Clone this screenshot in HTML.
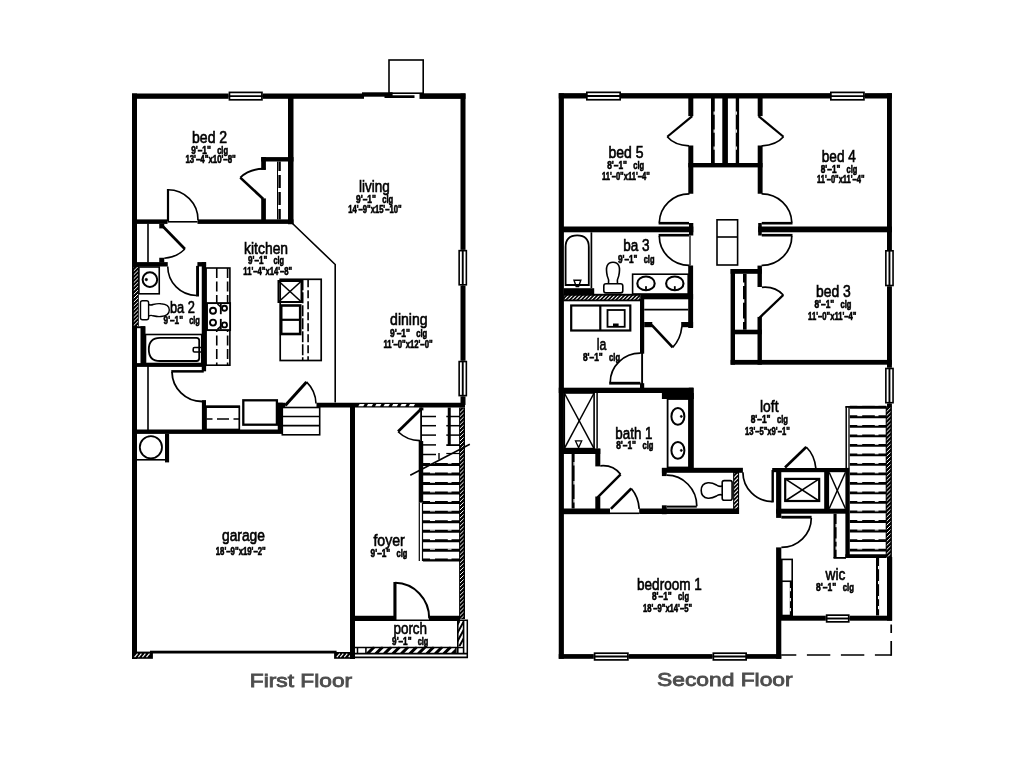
<!DOCTYPE html>
<html><head><meta charset="utf-8"><title>Floor Plan</title>
<style>
html,body{margin:0;padding:0;background:#fff;}
body{width:1024px;height:768px;overflow:hidden;font-family:"Liberation Sans",sans-serif;}
svg{display:block;filter:grayscale(1);font-family:"Liberation Sans",sans-serif;}
</style></head><body>
<svg width="1024" height="768" viewBox="0 0 1024 768">
<rect x="0" y="0" width="1024" height="768" fill="#fff"/>
<rect x="132" y="93.5" width="5" height="565.5" fill="#000"/>
<rect x="132" y="93.5" width="232" height="5.3" fill="#000"/>
<rect x="362" y="92.3" width="30.6" height="4.4" fill="#000"/>
<rect x="384.5" y="95.3" width="30.0" height="2.7" fill="#000"/>
<rect x="419.5" y="93.3" width="46.0" height="5.6" fill="#000"/>
<rect x="460.5" y="93.5" width="5.0" height="311.5" fill="#000"/>
<rect x="389" y="60" width="34.2" height="33.2" fill="none" stroke="#000" stroke-width="1.6"/>
<rect x="288" y="98" width="5.5" height="126.25" fill="#000"/>
<rect x="137" y="219.4" width="30.5" height="4.5" fill="#000"/>
<rect x="197.5" y="219.4" width="96.0" height="4.5" fill="#000"/>
<polyline points="167.5,221.8 197.5,221.8" fill="none" stroke="#000" stroke-width="1.6" />
<rect x="166.9" y="189" width="2.2" height="32" fill="#000"/>
<path d="M168,189.7 A30,30 0 0 1 198,220" fill="none" stroke="#000" stroke-width="1.6" />
<rect x="261.2" y="157.1" width="32.3" height="4.4" fill="#000"/>
<rect x="261.2" y="157.1" width="4.7" height="12.7" fill="#000"/>
<rect x="261.2" y="198.4" width="4.7" height="23.6" fill="#000"/>
<path d="M265.5,168.9 Q250,168.3 240.3,177.6" fill="none" stroke="#000" stroke-width="2" />
<polyline points="240.3,177.6 263.25,199" fill="none" stroke="#000" stroke-width="2.6" />
<polyline points="277.5,161.5 277.5,219.5" fill="none" stroke="#000" stroke-width="1" />
<polyline points="279.6,161.5 279.6,219.5" fill="none" stroke="#000" stroke-width="2.4" stroke-dasharray="13 4" stroke-dashoffset="3.6"/>
<rect x="228.6" y="91.55" width="34.2" height="9.1" fill="#fff"/>
<rect x="229.45" y="92.4" width="32.5" height="7.4" fill="none" stroke="#000" stroke-width="1.7"/>
<polyline points="228.6,96.1 262.8,96.1" fill="none" stroke="#000" stroke-width="1.9" />
<polyline points="148,223.5 148,262.5" fill="none" stroke="#000" stroke-width="1.6" />
<rect x="159.25" y="223.75" width="5.0" height="4.65" fill="#000"/>
<rect x="159.25" y="257.75" width="5.0" height="4.75" fill="#000"/>
<rect x="132" y="262.1" width="35.75" height="4.4" fill="#000"/>
<polyline points="163,226.5 184.9,249" fill="none" stroke="#000" stroke-width="2.7" />
<path d="M184.9,249 A31.5,31.5 0 0 1 164.25,258.2" fill="none" stroke="#000" stroke-width="1.6" />
<rect x="197.4" y="262.1" width="8.7" height="4.4" fill="#000"/>
<rect x="201.75" y="262.1" width="4.35" height="109.2" fill="#000"/>
<rect x="140.5" y="326.25" width="5.0" height="37.75" fill="#000"/>
<rect x="137" y="326.25" width="8" height="1.95" fill="#000"/>
<rect x="137" y="363.1" width="69.1" height="3.8" fill="#000"/>
<rect x="132.25" y="266" width="6.55" height="60.3" fill="#000"/>
<clipPath id="c1"><rect x="133.8" y="267" width="4.2" height="59"/></clipPath>
<path d="M132.8,268.0L139,261.8M132.8,271.9L139,265.7M132.8,275.8L139,269.6M132.8,279.7L139,273.5M132.8,283.6L139,277.4M132.8,287.5L139,281.3M132.8,291.4L139,285.2M132.8,295.3L139,289.1M132.8,299.2L139,293.0M132.8,303.1L139,296.9M132.8,307.0L139,300.8M132.8,310.9L139,304.7M132.8,314.8L139,308.6M132.8,318.7L139,312.5M132.8,322.6L139,316.4M132.8,326.5L139,320.3M132.8,330.4L139,324.2M132.8,334.3L139,328.1" stroke="#fff" stroke-width="1.0" fill="none" clip-path="url(#c1)"/>
<rect x="138.9" y="267" width="20.35" height="26.8" fill="none" stroke="#000" stroke-width="1.6"/>
<ellipse cx="149.9" cy="279.6" rx="7.3" ry="7.3" fill="none" stroke="#000" stroke-width="2"/>
<ellipse cx="146.3" cy="279.6" rx="1.3" ry="1.3" fill="#000" stroke="#000" stroke-width="0.5"/>
<path d="M167.75,266.5 A29,29 0 0 0 196.5,295.5" fill="none" stroke="#000" stroke-width="1.6" />
<rect x="196.1" y="265.9" width="2.9" height="30.6" fill="#000"/>
<rect x="145.5" y="334.5" width="56.25" height="29.0" fill="none" stroke="#000" stroke-width="1.6"/>
<path d="M160,337.8 H196.5 Q199.2,337.8 199.2,340.5 V358.3 Q199.2,361 196.5,361 H160 Q148.8,361 148.8,349.4 Q148.8,337.8 160,337.8 Z" fill="none" stroke="#000" stroke-width="1.8" />
<path d="M201,347.5 H194.5 Q193.2,347.5 193.2,349 V350.8 Q193.2,352 194.5,352 H201" fill="none" stroke="#000" stroke-width="1.6" />
<path d="M142.5,300.8 H146.6 Q148.6,300.8 148.6,302.8 V317.8 Q148.6,319.8 146.6,319.8 H142.5 Q140.5,319.8 140.5,317.8 V302.8 Q140.5,300.8 142.5,300.8 Z" fill="none" stroke="#000" stroke-width="1.4" />
<path d="M148.6,304.5 Q151,305.5 153,304.5 Q158,303.3 161,303.8 Q169.3,304.3 169.3,310 Q169.3,316 161,316.5 Q158,317 153,315.8 Q151,314.8 148.6,316" fill="none" stroke="#000" stroke-width="1.4" />
<rect x="206.1" y="268" width="23.8" height="97.2" fill="none" stroke="#000" stroke-width="1.6"/>
<polyline points="216.75,268 216.75,365" fill="none" stroke="#000" stroke-width="1.6" stroke-dasharray="10 3.5"/>
<polyline points="227.6,268 227.6,365" fill="none" stroke="#000" stroke-width="1.6" stroke-dasharray="10 3.5"/>
<rect x="207" y="303.1" width="23.1" height="27.0" fill="#fff" stroke="#000" stroke-width="1.9"/>
<ellipse cx="213" cy="310.7" rx="3.0" ry="3.0" fill="none" stroke="#000" stroke-width="1.9"/>
<ellipse cx="224.5" cy="308.2" rx="2.5" ry="2.5" fill="none" stroke="#000" stroke-width="1.9"/>
<ellipse cx="213" cy="322.6" rx="3.0" ry="3.0" fill="none" stroke="#000" stroke-width="1.9"/>
<ellipse cx="224.5" cy="324.9" rx="2.5" ry="2.5" fill="none" stroke="#000" stroke-width="1.9"/>
<polyline points="220.8,304 220.8,314.2" fill="none" stroke="#000" stroke-width="1.8" />
<polyline points="220.8,318.9 220.8,329.3" fill="none" stroke="#000" stroke-width="1.8" />
<polyline points="217.5,304 220.8,307" fill="none" stroke="#000" stroke-width="1.6" />
<polyline points="217.5,329.3 220.8,326.3" fill="none" stroke="#000" stroke-width="1.6" />
<rect x="280.2" y="279.3" width="41.0" height="81.2" fill="none" stroke="#000" stroke-width="1.7"/>
<rect x="278.5" y="281" width="23.0" height="21" fill="none" stroke="#000" stroke-width="2"/>
<polyline points="278.5,281 301.5,302" fill="none" stroke="#000" stroke-width="1.6" />
<polyline points="301.5,281 278.5,302" fill="none" stroke="#000" stroke-width="1.6" />
<rect x="281.2" y="305.5" width="19.0" height="28.5" fill="none" stroke="#000" stroke-width="2.6"/>
<polyline points="281.2,319.8 300.2,319.8" fill="none" stroke="#000" stroke-width="2.2" />
<polyline points="302.7,279.3 302.7,360.5" fill="none" stroke="#000" stroke-width="1.6" stroke-dasharray="11 2"/>
<polyline points="308.1,279.3 308.1,360.5" fill="none" stroke="#000" stroke-width="1.6" stroke-dasharray="8 3"/>
<polyline points="292.5,223.5 335.2,264.5 335.2,402.5" fill="none" stroke="#000" stroke-width="1.6" />
<rect x="458.35" y="249.85" width="8.8" height="35.75" fill="#fff"/>
<rect x="459.15" y="250.65" width="7.2" height="34.15" fill="none" stroke="#000" stroke-width="1.6"/>
<polyline points="462.75,249.85 462.75,285.6" fill="none" stroke="#000" stroke-width="1.9" />
<rect x="458.35" y="360.75" width="8.8" height="35.65" fill="#fff"/>
<rect x="459.15" y="361.55" width="7.2" height="34.05" fill="none" stroke="#000" stroke-width="1.6"/>
<polyline points="462.75,360.75 462.75,396.4" fill="none" stroke="#000" stroke-width="1.9" />
<polyline points="148,366 148,430" fill="none" stroke="#000" stroke-width="1.6" />
<rect x="171.25" y="370.1" width="32.5" height="2.5" fill="#000"/>
<path d="M172,372 A30,30 0 0 0 202,401.5" fill="none" stroke="#000" stroke-width="1.8" />
<rect x="201.9" y="400.1" width="4.1" height="29.9" fill="#000"/>
<rect x="132" y="429.5" width="150.75" height="4.4" fill="#000"/>
<rect x="206" y="406.5" width="33.3" height="23.0" fill="none" stroke="#000" stroke-width="1.7"/>
<polyline points="206,406.8 240,406.8" fill="none" stroke="#000" stroke-width="2.6" />
<polyline points="206.5,419 239,419" fill="none" stroke="#000" stroke-width="1.5" stroke-dasharray="12 4.5" stroke-dashoffset="6"/>
<rect x="243.3" y="400.3" width="33.6" height="24.4" fill="none" stroke="#000" stroke-width="2.3"/>
<rect x="277.75" y="402.75" width="5.0" height="29.75" fill="#000"/>
<rect x="277.75" y="402.75" width="7.55" height="4.65" fill="#000"/>
<rect x="282.3" y="407.5" width="37.4" height="27.3" fill="none" stroke="#000" stroke-width="1.6"/>
<polyline points="282.3,416.5 319.7,416.5" fill="none" stroke="#000" stroke-width="1.6" />
<polyline points="282.3,425.6 319.7,425.6" fill="none" stroke="#000" stroke-width="1.6" />
<polyline points="285.25,405.6 306.5,381.9" fill="none" stroke="#000" stroke-width="3" />
<path d="M306.5,381.9 A31.5,31.5 0 0 1 316,403.5" fill="none" stroke="#000" stroke-width="1.6" />
<rect x="316.5" y="402.75" width="148.5" height="4.75" fill="#000"/>
<polygon points="358.3,406.3 359.6,404 364.6,404 363.3,406.3" fill="#fff"/>
<polygon points="366.7,406.3 368.0,404 373.0,404 371.7,406.3" fill="#fff"/>
<polygon points="375.1,406.3 376.40000000000003,404 381.40000000000003,404 380.1,406.3" fill="#fff"/>
<polygon points="383.5,406.3 384.8,404 389.8,404 388.5,406.3" fill="#fff"/>
<polygon points="391.90000000000003,406.3 393.20000000000005,404 398.20000000000005,404 396.90000000000003,406.3" fill="#fff"/>
<polygon points="400.3,406.3 401.6,404 406.6,404 405.3,406.3" fill="#fff"/>
<polygon points="408.70000000000005,406.3 410.00000000000006,404 415.00000000000006,404 413.70000000000005,406.3" fill="#fff"/>
<rect x="350" y="405" width="5" height="254" fill="#000"/>
<rect x="132.4" y="651.6" width="20.5" height="7.2" fill="#000"/>
<polyline points="134.6,657.2 137.6,653.6" fill="none" stroke-width="1.1" stroke="#fff"/>
<polyline points="138.4,657.2 141.4,653.6" fill="none" stroke-width="1.1" stroke="#fff"/>
<polyline points="142.4,657.2 145.4,653.6" fill="none" stroke-width="1.1" stroke="#fff"/>
<polyline points="146.5,657.2 149.5,653.6" fill="none" stroke-width="1.1" stroke="#fff"/>
<rect x="334.1" y="652" width="20.5" height="6.8" fill="#000"/>
<polyline points="336.8,657.2 339.8,653.6" fill="none" stroke-width="1.1" stroke="#fff"/>
<polyline points="340.3,657.2 343.3,653.6" fill="none" stroke-width="1.1" stroke="#fff"/>
<polyline points="344.3,657.2 347.3,653.6" fill="none" stroke-width="1.1" stroke="#fff"/>
<polyline points="348.7,657.2 351.7,653.6" fill="none" stroke-width="1.1" stroke="#fff"/>
<rect x="150" y="650.7" width="186.6" height="2.8" fill="#000"/>
<rect x="165" y="433.7" width="4.1" height="28.7" fill="#000"/>
<polyline points="137,459.8 165,459.8" fill="none" stroke="#000" stroke-width="1.6" />
<ellipse cx="150.9" cy="447.25" rx="11.1" ry="11.1" fill="none" stroke="#000" stroke-width="1.8"/>
<rect x="354.6" y="615.75" width="39.4" height="5.25" fill="#000"/>
<rect x="429" y="615.75" width="31" height="5.25" fill="#000"/>
<polyline points="394,620.2 429,620.2" fill="none" stroke="#000" stroke-width="1.6" />
<rect x="393.4" y="582" width="3.1" height="38.5" fill="#000"/>
<path d="M395.25,582.8 A34.5,35.5 0 0 1 429.2,618.5" fill="none" stroke="#000" stroke-width="2" />
<rect x="459.1" y="407.5" width="5.9" height="211.5" fill="#000"/>
<clipPath id="c2"><rect x="460" y="408.5" width="3.6" height="210.0"/></clipPath>
<path d="M459,409.5L464.6,403.9M459,413.56L464.6,407.96M459,417.62L464.6,412.02M459,421.68L464.6,416.08M459,425.74L464.6,420.14M459,429.8L464.6,424.2M459,433.86L464.6,428.26M459,437.92L464.6,432.32M459,441.98L464.6,436.38M459,446.04L464.6,440.44M459,450.1L464.6,444.5M459,454.16L464.6,448.56M459,458.22L464.6,452.62M459,462.28L464.6,456.68M459,466.34L464.6,460.74M459,470.4L464.6,464.8M459,474.46L464.6,468.86M459,478.52L464.6,472.92M459,482.58L464.6,476.98M459,486.64L464.6,481.04M459,490.7L464.6,485.1M459,494.76L464.6,489.16M459,498.82L464.6,493.22M459,502.88L464.6,497.28M459,506.94L464.6,501.34M459,511.0L464.6,505.4M459,515.06L464.6,509.46M459,519.12L464.6,513.52M459,523.18L464.6,517.58M459,527.24L464.6,521.64M459,531.3L464.6,525.7M459,535.36L464.6,529.76M459,539.42L464.6,533.82M459,543.48L464.6,537.88M459,547.54L464.6,541.94M459,551.6L464.6,546.0M459,555.66L464.6,550.06M459,559.72L464.6,554.12M459,563.78L464.6,558.18M459,567.84L464.6,562.24M459,571.9L464.6,566.3M459,575.96L464.6,570.36M459,580.02L464.6,574.42M459,584.08L464.6,578.48M459,588.14L464.6,582.54M459,592.2L464.6,586.6M459,596.26L464.6,590.66M459,600.32L464.6,594.72M459,604.38L464.6,598.78M459,608.44L464.6,602.84M459,612.5L464.6,606.9M459,616.56L464.6,610.96M459,620.62L464.6,615.02M459,624.68L464.6,619.08" stroke="#fff" stroke-width="1.0" fill="none" clip-path="url(#c2)"/>
<rect x="419.2" y="407.5" width="4.2" height="2.9" fill="#000"/>
<polyline points="421.1,407.5 421.1,441.5" fill="none" stroke="#000" stroke-width="1.8" />
<rect x="418.7" y="441" width="4.5" height="61.6" fill="#000"/>
<polyline points="419.3,502.6 419.3,561" fill="none" stroke="#000" stroke-width="1.2" />
<polyline points="422.5,502.6 422.5,561" fill="none" stroke="#000" stroke-width="1.2" />
<polyline points="422,416.5 436,416.5" fill="none" stroke="#000" stroke-width="1.5" />
<polyline points="422,425.7 436,425.7" fill="none" stroke="#000" stroke-width="1.5" />
<polyline points="422,435.1 436,435.1" fill="none" stroke="#000" stroke-width="1.5" />
<polyline points="422,444.9 436,444.9" fill="none" stroke="#000" stroke-width="1.5" />
<polyline points="422,454.5 436,454.5" fill="none" stroke="#000" stroke-width="1.5" />
<polyline points="446.3,416.5 459.75,416.5" fill="none" stroke="#000" stroke-width="1.5" />
<polyline points="446.3,425.7 459.75,425.7" fill="none" stroke="#000" stroke-width="1.5" />
<polyline points="446.3,435.1 459.75,435.1" fill="none" stroke="#000" stroke-width="1.5" />
<polyline points="446.3,453.5 459.75,453.5" fill="none" stroke="#000" stroke-width="1.2" />
<polyline points="422.9,464.4 460,464.4" fill="none" stroke="#000" stroke-width="3" />
<rect x="430" y="462.59999999999997" width="5" height="1.1" fill="#fff"/>
<rect x="447.8" y="462.59999999999997" width="3.7" height="1.1" fill="#fff"/>
<polyline points="422.9,473.95 460,473.95" fill="none" stroke="#000" stroke-width="3" />
<rect x="430" y="472.15" width="5" height="1.1" fill="#fff"/>
<rect x="447.8" y="472.15" width="3.7" height="1.1" fill="#fff"/>
<polyline points="422.9,483.5 460,483.5" fill="none" stroke="#000" stroke-width="3" />
<rect x="430" y="481.7" width="5" height="1.1" fill="#fff"/>
<rect x="447.8" y="481.7" width="3.7" height="1.1" fill="#fff"/>
<polyline points="422.9,493.05 460,493.05" fill="none" stroke="#000" stroke-width="3" />
<rect x="430" y="491.25" width="5" height="1.1" fill="#fff"/>
<rect x="447.8" y="491.25" width="3.7" height="1.1" fill="#fff"/>
<polyline points="422.9,502.6 460,502.6" fill="none" stroke="#000" stroke-width="3" />
<rect x="430" y="500.8" width="5" height="1.1" fill="#fff"/>
<rect x="447.8" y="500.8" width="3.7" height="1.1" fill="#fff"/>
<polyline points="422.9,512.15 460,512.15" fill="none" stroke="#000" stroke-width="3" />
<rect x="430" y="510.34999999999997" width="5" height="1.1" fill="#fff"/>
<rect x="447.8" y="510.34999999999997" width="3.7" height="1.1" fill="#fff"/>
<polyline points="422.9,521.6999999999999 460,521.6999999999999" fill="none" stroke="#000" stroke-width="3" />
<rect x="430" y="519.9" width="5" height="1.1" fill="#fff"/>
<rect x="447.8" y="519.9" width="3.7" height="1.1" fill="#fff"/>
<polyline points="422.9,531.2499999999999 460,531.2499999999999" fill="none" stroke="#000" stroke-width="3" />
<rect x="430" y="529.4499999999999" width="5" height="1.1" fill="#fff"/>
<rect x="447.8" y="529.4499999999999" width="3.7" height="1.1" fill="#fff"/>
<polyline points="422.9,540.7999999999998 460,540.7999999999998" fill="none" stroke="#000" stroke-width="3" />
<rect x="430" y="538.9999999999999" width="5" height="1.1" fill="#fff"/>
<rect x="447.8" y="538.9999999999999" width="3.7" height="1.1" fill="#fff"/>
<polyline points="422.9,550.3499999999998 460,550.3499999999998" fill="none" stroke="#000" stroke-width="3" />
<rect x="430" y="548.5499999999998" width="5" height="1.1" fill="#fff"/>
<rect x="447.8" y="548.5499999999998" width="3.7" height="1.1" fill="#fff"/>
<polyline points="422.9,559.8999999999997 460,559.8999999999997" fill="none" stroke="#000" stroke-width="3" />
<rect x="430" y="558.0999999999998" width="5" height="1.1" fill="#fff"/>
<rect x="447.8" y="558.0999999999998" width="3.7" height="1.1" fill="#fff"/>
<polyline points="410.25,475.2 469.8,444.2" fill="none" stroke="#000" stroke-width="1.6" />
<polyline points="439,453 439,459.5" fill="none" stroke="#000" stroke-width="1.4" />
<rect x="447.75" y="407.5" width="3.0" height="37.6" fill="#000"/>
<rect x="446.3" y="444.2" width="13.7" height="1.8" fill="#000"/>
<polyline points="420.6,409.5 398.1,431.5" fill="none" stroke="#000" stroke-width="2.8" />
<path d="M398.1,431.8 A31.2,31.2 0 0 0 420.1,440.6" fill="none" stroke="#000" stroke-width="1.6" />
<rect x="350" y="620" width="4.6" height="38.25" fill="#000"/>
<clipPath id="c3"><rect x="365.9" y="646.75" width="90.0" height="7.15"/></clipPath>
<rect x="365.9" y="646.75" width="90.0" height="7.15" fill="#fff"/>
<path d="M358.75,653.9L365.9,646.75M367.25,653.9L374.4,646.75M375.75,653.9L382.9,646.75M384.25,653.9L391.4,646.75M392.75,653.9L399.9,646.75M401.25,653.9L408.4,646.75M409.75,653.9L416.9,646.75M418.25,653.9L425.4,646.75M426.75,653.9L433.9,646.75M435.25,653.9L442.4,646.75M443.75,653.9L450.9,646.75M452.25,653.9L459.4,646.75M460.75,653.9L467.9,646.75" stroke="#000" stroke-width="3" fill="none" clip-path="url(#c3)"/>
<polyline points="354.6,647.5 464,647.5" fill="none" stroke="#000" stroke-width="1.6" />
<polyline points="354.6,653.6 467.7,653.6" fill="none" stroke="#000" stroke-width="1.6" />
<polyline points="357.5,647.5 357.5,653.6" fill="none" stroke="#000" stroke-width="1.5" />
<polyline points="365.9,647.5 365.9,653.6" fill="none" stroke="#000" stroke-width="1.5" />
<polyline points="455.9,647.5 455.9,653.6" fill="none" stroke="#000" stroke-width="1.5" />
<polyline points="354.6,657.3 468,657.3" fill="none" stroke="#000" stroke-width="1.7" />
<clipPath id="c4"><rect x="457.1" y="621" width="6.9" height="25.5"/></clipPath>
<rect x="457.1" y="621" width="6.9" height="25.5" fill="#fff"/>
<path d="M431.6,646.5L445.62,621M436.2,646.5L450.23,621M440.8,646.5L454.82,621M445.4,646.5L459.43,621M450.0,646.5L464.02,621M454.6,646.5L468.62,621M459.2,646.5L473.23,621M463.8,646.5L477.82,621M468.4,646.5L482.43,621M473.0,646.5L487.02,621M477.6,646.5L491.62,621M482.2,646.5L496.23,621M486.8,646.5L500.82,621" stroke="#000" stroke-width="2" fill="none" clip-path="url(#c4)"/>
<polyline points="457.8,621 457.8,653.6" fill="none" stroke="#000" stroke-width="1.6" />
<polyline points="463.6,621 463.6,653.6" fill="none" stroke="#000" stroke-width="1.6" />
<polyline points="460,620.3 467.3,620.3 467.3,657.5" fill="none" stroke="#000" stroke-width="1.5" />
<text x="192" y="143.1" font-size="17.2" textLength="35.2" lengthAdjust="spacingAndGlyphs" stroke="#000" stroke-width="0.65">bed 2</text>
<text x="191.2" y="153.6" font-size="10" font-weight="bold" textLength="19.69" lengthAdjust="spacingAndGlyphs" stroke="#000" stroke-width="0.6">9'–1&quot;</text>
<text x="217.14" y="153.6" font-size="10" font-weight="bold" textLength="10.86" lengthAdjust="spacingAndGlyphs" stroke="#000" stroke-width="0.6">clg</text>
<text x="185.4" y="163.4" font-size="10" font-weight="bold" textLength="50.4" lengthAdjust="spacingAndGlyphs" stroke="#000" stroke-width="0.6">13'–4&quot;x10'–8&quot;</text>
<text x="359" y="191.7" font-size="17.2" textLength="30.8" lengthAdjust="spacingAndGlyphs" stroke="#000" stroke-width="0.65">living</text>
<text x="356.1" y="202.7" font-size="10" font-weight="bold" textLength="19.85" lengthAdjust="spacingAndGlyphs" stroke="#000" stroke-width="0.6">9'–1&quot;</text>
<text x="382.26" y="202.7" font-size="10" font-weight="bold" textLength="10.94" lengthAdjust="spacingAndGlyphs" stroke="#000" stroke-width="0.6">clg</text>
<text x="348.3" y="213" font-size="10" font-weight="bold" textLength="53.2" lengthAdjust="spacingAndGlyphs" stroke="#000" stroke-width="0.6">14'–9&quot;x15'–10&quot;</text>
<text x="244.1" y="253.7" font-size="17.2" textLength="44.0" lengthAdjust="spacingAndGlyphs" stroke="#000" stroke-width="0.65">kitchen</text>
<text x="248" y="264.4" font-size="10" font-weight="bold" textLength="19.26" lengthAdjust="spacingAndGlyphs" stroke="#000" stroke-width="0.6">9'–1&quot;</text>
<text x="273.38" y="264.4" font-size="10" font-weight="bold" textLength="10.62" lengthAdjust="spacingAndGlyphs" stroke="#000" stroke-width="0.6">clg</text>
<text x="243.3" y="275.4" font-size="10" font-weight="bold" textLength="48.9" lengthAdjust="spacingAndGlyphs" stroke="#000" stroke-width="0.6">11'–4&quot;x14'–8&quot;</text>
<text x="390.1" y="325.4" font-size="17.2" textLength="37.5" lengthAdjust="spacingAndGlyphs" stroke="#000" stroke-width="0.65">dining</text>
<text x="390" y="336.6" font-size="10" font-weight="bold" textLength="19.93" lengthAdjust="spacingAndGlyphs" stroke="#000" stroke-width="0.6">9'–1&quot;</text>
<text x="416.26" y="336.6" font-size="10" font-weight="bold" textLength="10.99" lengthAdjust="spacingAndGlyphs" stroke="#000" stroke-width="0.6">clg</text>
<text x="383.5" y="348.2" font-size="10" font-weight="bold" textLength="49.1" lengthAdjust="spacingAndGlyphs" stroke="#000" stroke-width="0.6">11'–0&quot;x12'–0&quot;</text>
<text x="169.9" y="313.1" font-size="17.2" textLength="25.0" lengthAdjust="spacingAndGlyphs" stroke="#000" stroke-width="0.65">ba 2</text>
<text x="163.6" y="323.75" font-size="10" font-weight="bold" textLength="19.42" lengthAdjust="spacingAndGlyphs" stroke="#000" stroke-width="0.6">9'–1&quot;</text>
<text x="189.19" y="323.75" font-size="10" font-weight="bold" textLength="10.71" lengthAdjust="spacingAndGlyphs" stroke="#000" stroke-width="0.6">clg</text>
<text x="222" y="540.6" font-size="17.2" textLength="42.9" lengthAdjust="spacingAndGlyphs" stroke="#000" stroke-width="0.65">garage</text>
<text x="215.8" y="554.9" font-size="10" font-weight="bold" textLength="50.0" lengthAdjust="spacingAndGlyphs" stroke="#000" stroke-width="0.6">18'–9&quot;x19'–2&quot;</text>
<text x="373.4" y="546.2" font-size="17.2" textLength="31.4" lengthAdjust="spacingAndGlyphs" stroke="#000" stroke-width="0.65">foyer</text>
<text x="370.6" y="557.2" font-size="10" font-weight="bold" textLength="19.69" lengthAdjust="spacingAndGlyphs" stroke="#000" stroke-width="0.6">9'–1&quot;</text>
<text x="396.54" y="557.2" font-size="10" font-weight="bold" textLength="10.86" lengthAdjust="spacingAndGlyphs" stroke="#000" stroke-width="0.6">clg</text>
<text x="393.4" y="634.1" font-size="17.2" textLength="33.7" lengthAdjust="spacingAndGlyphs" stroke="#000" stroke-width="0.65">porch</text>
<text x="392.1" y="645.1" font-size="10" font-weight="bold" textLength="19.42" lengthAdjust="spacingAndGlyphs" stroke="#000" stroke-width="0.6">9'–1&quot;</text>
<text x="417.69" y="645.1" font-size="10" font-weight="bold" textLength="10.71" lengthAdjust="spacingAndGlyphs" stroke="#000" stroke-width="0.6">clg</text>
<text x="249.8" y="686.7" font-size="19.2" fill="#4d4d4f" stroke="#4d4d4f" stroke-width="0.85" textLength="102.3" lengthAdjust="spacingAndGlyphs">First Floor</text>
<rect x="558.75" y="93.25" width="5.15" height="565.55" fill="#000"/>
<rect x="558.75" y="93.15" width="333.15" height="5.35" fill="#000"/>
<rect x="887" y="93.25" width="4.9" height="313.75" fill="#000"/>
<rect x="558.75" y="654.1" width="222.5" height="4.7" fill="#000"/>
<rect x="776.1" y="547.4" width="5.2" height="111.4" fill="#000"/>
<rect x="781" y="615.7" width="111" height="5.0" fill="#000"/>
<rect x="887" y="557" width="5.2" height="63.7" fill="#000"/>
<rect x="885.7" y="406.5" width="6.2" height="150.5" fill="#000"/>
<clipPath id="c5"><rect x="886.7" y="407.5" width="3.8" height="149.0"/></clipPath>
<path d="M885.7,408.5L891.5,402.7M885.7,412.56L891.5,406.76M885.7,416.62L891.5,410.82M885.7,420.68L891.5,414.88M885.7,424.74L891.5,418.94M885.7,428.8L891.5,423.0M885.7,432.86L891.5,427.06M885.7,436.92L891.5,431.12M885.7,440.98L891.5,435.18M885.7,445.04L891.5,439.24M885.7,449.1L891.5,443.3M885.7,453.16L891.5,447.36M885.7,457.22L891.5,451.42M885.7,461.28L891.5,455.48M885.7,465.34L891.5,459.54M885.7,469.4L891.5,463.6M885.7,473.46L891.5,467.66M885.7,477.52L891.5,471.72M885.7,481.58L891.5,475.78M885.7,485.64L891.5,479.84M885.7,489.7L891.5,483.9M885.7,493.76L891.5,487.96M885.7,497.82L891.5,492.02M885.7,501.88L891.5,496.08M885.7,505.94L891.5,500.14M885.7,510.0L891.5,504.2M885.7,514.06L891.5,508.26M885.7,518.12L891.5,512.32M885.7,522.18L891.5,516.38M885.7,526.24L891.5,520.44M885.7,530.3L891.5,524.5M885.7,534.36L891.5,528.56M885.7,538.42L891.5,532.62M885.7,542.48L891.5,536.68M885.7,546.54L891.5,540.74M885.7,550.6L891.5,544.8M885.7,554.66L891.5,548.86M885.7,558.72L891.5,552.92M885.7,562.78L891.5,556.98" stroke="#fff" stroke-width="1.0" fill="none" clip-path="url(#c5)"/>
<polyline points="781.3,655 891.2,655" fill="none" stroke="#000" stroke-width="1.7" stroke-dasharray="23.4 10.6" stroke-dashoffset="8.4"/>
<polyline points="891.2,655.8 891.2,641" fill="none" stroke="#000" stroke-width="1.7" />
<polyline points="891.2,633 891.2,624.5" fill="none" stroke="#000" stroke-width="1.7" />
<rect x="586" y="91.5" width="35" height="9.1" fill="#fff"/>
<rect x="586.85" y="92.35" width="33.3" height="7.4" fill="none" stroke="#000" stroke-width="1.7"/>
<polyline points="586,96.05 621,96.05" fill="none" stroke="#000" stroke-width="1.9" />
<rect x="830" y="91.55" width="34.8" height="9.1" fill="#fff"/>
<rect x="830.85" y="92.4" width="33.1" height="7.4" fill="none" stroke="#000" stroke-width="1.7"/>
<polyline points="830,96.1 864.8,96.1" fill="none" stroke="#000" stroke-width="1.9" />
<rect x="885.0500000000001" y="250" width="8.8" height="36.3" fill="#fff"/>
<rect x="885.85" y="250.8" width="7.2" height="34.7" fill="none" stroke="#000" stroke-width="1.6"/>
<polyline points="889.45,250 889.45,286.3" fill="none" stroke="#000" stroke-width="1.9" />
<rect x="885.0500000000001" y="367.7" width="8.8" height="35.8" fill="#fff"/>
<rect x="885.85" y="368.5" width="7.2" height="34.2" fill="none" stroke="#000" stroke-width="1.6"/>
<polyline points="889.45,367.7 889.45,403.5" fill="none" stroke="#000" stroke-width="1.9" />
<rect x="593.75" y="652.3499999999999" width="35.0" height="8.4" fill="#fff"/>
<rect x="594.6" y="653.2" width="33.3" height="6.7" fill="none" stroke="#000" stroke-width="1.7"/>
<polyline points="593.75,656.55 628.75,656.55" fill="none" stroke="#000" stroke-width="1.9" />
<rect x="712.5" y="652.3499999999999" width="34.5" height="8.4" fill="#fff"/>
<rect x="713.35" y="653.2" width="32.8" height="6.7" fill="none" stroke="#000" stroke-width="1.7"/>
<polyline points="712.5,656.55 747,656.55" fill="none" stroke="#000" stroke-width="1.9" />
<rect x="825.8" y="614.3" width="23.8" height="8.4" fill="#fff"/>
<rect x="826.65" y="615.15" width="22.1" height="6.7" fill="none" stroke="#000" stroke-width="1.7"/>
<polyline points="825.8,618.5 849.6,618.5" fill="none" stroke="#000" stroke-width="1.9" />
<rect x="688.3" y="98" width="5.0" height="18.1" fill="#000"/>
<rect x="688.3" y="145.5" width="5.0" height="48.25" fill="#000"/>
<rect x="689" y="223" width="4.3" height="12.5" fill="#000"/>
<rect x="722.3" y="98" width="5.6" height="66" fill="#000"/>
<rect x="688.3" y="163" width="74.2" height="4.4" fill="#000"/>
<rect x="757.7" y="98" width="4.9" height="18.1" fill="#000"/>
<rect x="757.7" y="145.5" width="4.9" height="48.25" fill="#000"/>
<rect x="711" y="98" width="3.75" height="65" fill="#000"/>
<rect x="713.6" y="111.5" width="1.2" height="3.2" fill="#fff"/>
<rect x="713.6" y="129.5" width="1.2" height="3.2" fill="#fff"/>
<rect x="713.6" y="146.5" width="1.2" height="3.2" fill="#fff"/>
<rect x="735.75" y="98" width="3.35" height="65" fill="#000"/>
<rect x="735.7" y="111.5" width="1.2" height="3.2" fill="#fff"/>
<rect x="735.7" y="129.5" width="1.2" height="3.2" fill="#fff"/>
<rect x="735.7" y="146.5" width="1.2" height="3.2" fill="#fff"/>
<path d="M692.25,116.1 L667.25,136.75" fill="none" stroke="#000" stroke-width="2.2" />
<path d="M667.25,136.75 Q674.5,145.2 689,145.9" fill="none" stroke="#000" stroke-width="1.7" />
<path d="M758.5,116.1 L783.5,136.75" fill="none" stroke="#000" stroke-width="2.2" />
<path d="M783.5,136.75 Q776.2,145.2 761.6,145.9" fill="none" stroke="#000" stroke-width="1.7" />
<rect x="563" y="226.5" width="130.3" height="5.8" fill="#000"/>
<rect x="758.2" y="226.5" width="133.8" height="5.8" fill="#000"/>
<rect x="758.2" y="223" width="3.55" height="12.5" fill="#000"/>
<rect x="658.6" y="221.9" width="30.4" height="2.6" fill="#000"/>
<path d="M659.3,222.5 A30,29.5 0 0 1 689.5,193.9" fill="none" stroke="#000" stroke-width="1.7" />
<rect x="658.6" y="233.9" width="30.4" height="2.6" fill="#000"/>
<path d="M659.3,236 A30,29.5 0 0 0 689.5,265.4" fill="none" stroke="#000" stroke-width="1.7" />
<polyline points="690,235.5 690,265.6" fill="none" stroke="#000" stroke-width="1.3" />
<rect x="761.75" y="221.9" width="30.75" height="2.6" fill="#000"/>
<path d="M791.8,222.5 A30,29.5 0 0 0 761.6,193.9" fill="none" stroke="#000" stroke-width="1.7" />
<rect x="761.75" y="233.9" width="30.75" height="2.6" fill="#000"/>
<path d="M791.8,236 A30,29.5 0 0 1 761.6,265.4" fill="none" stroke="#000" stroke-width="1.7" />
<rect x="717" y="219.8" width="20.6" height="45.2" fill="none" stroke="#000" stroke-width="1.6"/>
<polyline points="717,237 737.6,237" fill="none" stroke="#000" stroke-width="1.6" />
<polyline points="591.4,232.3 591.4,288" fill="none" stroke="#000" stroke-width="1.7" />
<path d="M565.6,285 V247 Q565.6,235.3 577.2,235.3 Q588.8,235.3 588.8,247 V285 Z" fill="none" stroke="#000" stroke-width="1.8" />
<path d="M574,280.3 H580.8 L578.6,286.5 H576.2 Z" fill="none" stroke="#000" stroke-width="1.4" />
<rect x="563.7" y="288.2" width="30.5" height="5.8" fill="#000"/>
<rect x="563.3" y="293.8" width="77.3" height="7.5" fill="#000"/>
<clipPath id="c6"><rect x="564.5" y="295.7" width="75.1" height="3.8"/></clipPath>
<path d="M559.7,300.5L565.5,294.7M563.55,300.5L569.35,294.7M567.4,300.5L573.2,294.7M571.25,300.5L577.05,294.7M575.1,300.5L580.9,294.7M578.95,300.5L584.75,294.7M582.8,300.5L588.6,294.7M586.65,300.5L592.45,294.7M590.5,300.5L596.3,294.7M594.35,300.5L600.15,294.7M598.2,300.5L604.0,294.7M602.05,300.5L607.85,294.7M605.9,300.5L611.7,294.7M609.75,300.5L615.55,294.7M613.6,300.5L619.4,294.7M617.45,300.5L623.25,294.7M621.3,300.5L627.1,294.7M625.15,300.5L630.95,294.7M629.0,300.5L634.8,294.7M632.85,300.5L638.65,294.7M636.7,300.5L642.5,294.7M640.55,300.5L646.35,294.7" stroke="#fff" stroke-width="1.1" fill="none" clip-path="url(#c6)"/>
<rect x="640.4" y="294" width="52.7" height="5.3" fill="#000"/>
<rect x="632.6" y="274.2" width="55.6" height="19.8" fill="none" stroke="#000" stroke-width="1.6"/>
<ellipse cx="646" cy="283.4" rx="8.7" ry="6.9" fill="none" stroke="#000" stroke-width="2.1"/>
<rect x="645.1" y="286.2" width="1.8" height="3.6" fill="#000"/>
<ellipse cx="674.8" cy="283.4" rx="8.7" ry="6.9" fill="none" stroke="#000" stroke-width="2.1"/>
<rect x="673.9" y="286.2" width="1.8" height="3.6" fill="#000"/>
<rect x="688.2" y="265.5" width="4.9" height="62.5" fill="#000"/>
<path d="M606,283.8 H620.6 Q622.8,283.8 622.8,286 V290.7 Q622.8,292.9 620.6,292.9 H606 Q603.8,292.9 603.8,290.7 V286 Q603.8,283.8 606,283.8 Z" fill="none" stroke="#000" stroke-width="1.6" />
<path d="M608.5,283.8 Q609.3,280 607.3,276 Q604.2,262.3 613,262.3 Q621.8,262.3 618.7,276 Q616.7,280 617.5,283.8" fill="none" stroke="#000" stroke-width="1.6" />
<rect x="640" y="299" width="4.2" height="54.7" fill="#000"/>
<polyline points="642.1,353 642.1,384" fill="none" stroke="#000" stroke-width="1.9" />
<rect x="640" y="383.2" width="4.2" height="4.8" fill="#000"/>
<rect x="571.2" y="305.5" width="59.1" height="25.0" fill="none" stroke="#000" stroke-width="2.2"/>
<polyline points="600.3,305.5 600.3,330.5" fill="none" stroke="#000" stroke-width="2.2" />
<rect x="607.5" y="310" width="17.2" height="16.8" fill="none" stroke="#000" stroke-width="1.8"/>
<rect x="613" y="323.5" width="5.6" height="2.5" fill="#000"/>
<rect x="609.2" y="381.8" width="31.2" height="2.8" fill="#000"/>
<path d="M610.2,382.5 A30,29.5 0 0 1 640.4,353.2" fill="none" stroke="#000" stroke-width="1.7" />
<polyline points="644.2,309.6 688.2,309.6" fill="none" stroke="#000" stroke-width="1.6" />
<rect x="644.2" y="322" width="8.1" height="5.2" fill="#000"/>
<rect x="681.2" y="322" width="11.9" height="5.2" fill="#000"/>
<polyline points="651.6,324.8 672.7,347.3" fill="none" stroke="#000" stroke-width="2.6" />
<path d="M672.7,347.3 Q680.5,339.5 681.9,326.5" fill="none" stroke="#000" stroke-width="1.7" />
<rect x="558.75" y="387.7" width="134.35" height="5.3" fill="#000"/>
<rect x="688.8" y="387.7" width="5.0" height="82.3" fill="#000"/>
<rect x="661.9" y="393" width="31.9" height="6" fill="#000"/>
<rect x="564.3" y="393" width="29.8" height="55.6" fill="none" stroke="#000" stroke-width="1.6"/>
<polyline points="564.3,393 594.1,448.6" fill="none" stroke="#000" stroke-width="1.5" />
<polyline points="594.1,393 564.3,448.6" fill="none" stroke="#000" stroke-width="1.5" />
<polyline points="597.1,393 597.1,448.6" fill="none" stroke="#000" stroke-width="1.5" />
<path d="M575.5,440.9 H581.7 L578.6,447.6 Z" fill="none" stroke="#000" stroke-width="1.3" />
<rect x="667.6" y="399" width="21.4" height="68.5" fill="none" stroke="#000" stroke-width="1.8"/>
<ellipse cx="677.9" cy="416.4" rx="6.5" ry="8.4" fill="none" stroke="#000" stroke-width="2"/>
<ellipse cx="681.3" cy="416.4" rx="1" ry="1" fill="#000" stroke="#000" stroke-width="0.8"/>
<ellipse cx="677.9" cy="450.4" rx="6.5" ry="8.4" fill="none" stroke="#000" stroke-width="2"/>
<ellipse cx="681.3" cy="450.4" rx="1" ry="1" fill="#000" stroke="#000" stroke-width="0.8"/>
<rect x="661.9" y="467.8" width="81.0" height="5.0" fill="#000"/>
<rect x="563" y="508.5" width="47" height="5.7" fill="#000"/>
<rect x="639.2" y="508.5" width="99.9" height="5.5" fill="#000"/>
<polyline points="610,513.3 639.2,513.3" fill="none" stroke="#000" stroke-width="1.6" />
<rect x="733.1" y="472" width="6.0" height="37" fill="#000"/>
<clipPath id="c7"><rect x="734.2" y="473.5" width="3.8" height="35.0"/></clipPath>
<path d="M733.2,474.5L739,468.7M733.2,478.5L739,472.7M733.2,482.5L739,476.7M733.2,486.5L739,480.7M733.2,490.5L739,484.7M733.2,494.5L739,488.7M733.2,498.5L739,492.7M733.2,502.5L739,496.7M733.2,506.5L739,500.7M733.2,510.5L739,504.7M733.2,514.5L739,508.7" stroke="#fff" stroke-width="1.1" fill="none" clip-path="url(#c7)"/>
<rect x="563" y="448.6" width="37.3" height="5.4" fill="#000"/>
<rect x="595.3" y="448.6" width="5.0" height="17.8" fill="#000"/>
<rect x="595.3" y="496.5" width="5.0" height="12.5" fill="#000"/>
<rect x="571.6" y="454" width="3.0" height="54.5" fill="#000"/>
<rect x="573.5" y="462" width="1.2" height="3.5" fill="#fff"/>
<rect x="573.5" y="481" width="1.2" height="3.5" fill="#fff"/>
<rect x="573.5" y="499" width="1.2" height="3.5" fill="#fff"/>
<path d="M600.3,465.8 Q613,464.5 620.6,474.3" fill="none" stroke="#000" stroke-width="1.8" />
<polyline points="620.6,474.3 597.6,497.4" fill="none" stroke="#000" stroke-width="2.4" />
<polyline points="610.9,508.9 631.3,488.5" fill="none" stroke="#000" stroke-width="2.6" />
<path d="M631.3,488.5 Q638.5,497 639.2,508.9" fill="none" stroke="#000" stroke-width="1.7" />
<rect x="661.9" y="468.1" width="4.8" height="8.0" fill="#000"/>
<rect x="661.9" y="505.3" width="4.8" height="8.9" fill="#000"/>
<path d="M666.7,475.2 A30,31 0 0 1 696.8,506.2" fill="none" stroke="#000" stroke-width="1.7" />
<polyline points="666.7,506.6 696.8,506.6" fill="none" stroke="#000" stroke-width="2" />
<path d="M724.2,480.6 H730.1 Q732.1,480.6 732.1,482.6 V498.3 Q732.1,500.3 730.1,500.3 H724.2 Q722.2,500.3 722.2,498.3 V482.6 Q722.2,480.6 724.2,480.6 Z" fill="none" stroke="#000" stroke-width="1.6" />
<path d="M722.2,486 Q719,487 716.5,485 Q712,482.5 708,482.8 Q701.2,483.5 701.2,490.5 Q701.2,497.5 708,498.2 Q712,498.5 716.5,496 Q719,494 722.2,495" fill="none" stroke="#000" stroke-width="1.6" />
<rect x="771.5" y="470" width="2.4" height="32.4" fill="#000"/>
<path d="M742.9,472.2 A30,29.5 0 0 0 772.5,501.7" fill="none" stroke="#000" stroke-width="1.7" />
<rect x="730.6" y="269" width="4.4" height="95.7" fill="#000"/>
<rect x="730.6" y="269" width="31.3" height="4.8" fill="#000"/>
<rect x="730.6" y="359.9" width="161.4" height="4.8" fill="#000"/>
<rect x="757.5" y="265.6" width="4.4" height="21.4" fill="#000"/>
<rect x="757.5" y="316.9" width="4.4" height="47.8" fill="#000"/>
<rect x="735" y="329.7" width="26.9" height="4.6" fill="#000"/>
<rect x="743" y="273.8" width="3.6" height="55.9" fill="#000"/>
<rect x="742.9" y="282.5" width="1.4" height="3.5" fill="#fff"/>
<rect x="742.9" y="299.2" width="1.4" height="3.5" fill="#fff"/>
<rect x="742.9" y="318.5" width="1.4" height="3.5" fill="#fff"/>
<path d="M761.9,287.3 Q775,286 783.3,295" fill="none" stroke="#000" stroke-width="1.8" />
<polyline points="783.3,295 759.7,317.6" fill="none" stroke="#000" stroke-width="2.4" />
<rect x="772.2" y="468" width="75.3" height="4.2" fill="#000"/>
<rect x="776.1" y="468" width="5.2" height="49.9" fill="#000"/>
<rect x="776.1" y="508.7" width="71.4" height="5.0" fill="#000"/>
<rect x="824.2" y="472" width="4.9" height="37" fill="#000"/>
<rect x="785.2" y="478.9" width="34.0" height="22.1" fill="none" stroke="#000" stroke-width="2.2"/>
<polyline points="785.2,478.9 819.2,501" fill="none" stroke="#000" stroke-width="1.5" />
<polyline points="819.2,478.9 785.2,501" fill="none" stroke="#000" stroke-width="1.5" />
<polyline points="829.1,472.2 845.5,508.7" fill="none" stroke="#000" stroke-width="1.5" />
<polyline points="845.5,472.2 829.1,508.7" fill="none" stroke="#000" stroke-width="1.5" />
<polyline points="785,467.5 806.25,447" fill="none" stroke="#000" stroke-width="2.6" />
<path d="M806.25,447 Q814.5,455 815.8,468" fill="none" stroke="#000" stroke-width="1.7" />
<rect x="781.3" y="515.8" width="30.3" height="2.8" fill="#000"/>
<path d="M811.3,518 A30,29.5 0 0 1 781.3,547.4" fill="none" stroke="#000" stroke-width="1.7" />
<rect x="845.4" y="467.9" width="4.35" height="90.1" fill="#000"/>
<polyline points="846.2,406.6 846.2,468" fill="none" stroke="#000" stroke-width="1.5" />
<polyline points="849,406.6 849,468" fill="none" stroke="#000" stroke-width="1.3" />
<polyline points="849.75,407.25 886.3,407.25" fill="none" stroke="#000" stroke-width="2.8" />
<rect x="857.3" y="405.55" width="4.9" height="1.1" fill="#fff"/>
<rect x="874.8" y="405.55" width="3.7" height="1.1" fill="#fff"/>
<polyline points="849.75,416.77 886.3,416.77" fill="none" stroke="#000" stroke-width="2.8" />
<rect x="857.3" y="415.07" width="4.9" height="1.1" fill="#fff"/>
<rect x="874.8" y="415.07" width="3.7" height="1.1" fill="#fff"/>
<polyline points="849.75,426.28999999999996 886.3,426.28999999999996" fill="none" stroke="#000" stroke-width="2.8" />
<rect x="857.3" y="424.59" width="4.9" height="1.1" fill="#fff"/>
<rect x="874.8" y="424.59" width="3.7" height="1.1" fill="#fff"/>
<polyline points="849.75,435.80999999999995 886.3,435.80999999999995" fill="none" stroke="#000" stroke-width="2.8" />
<rect x="857.3" y="434.10999999999996" width="4.9" height="1.1" fill="#fff"/>
<rect x="874.8" y="434.10999999999996" width="3.7" height="1.1" fill="#fff"/>
<polyline points="849.75,445.3299999999999 886.3,445.3299999999999" fill="none" stroke="#000" stroke-width="2.8" />
<rect x="857.3" y="443.62999999999994" width="4.9" height="1.1" fill="#fff"/>
<rect x="874.8" y="443.62999999999994" width="3.7" height="1.1" fill="#fff"/>
<polyline points="849.75,454.8499999999999 886.3,454.8499999999999" fill="none" stroke="#000" stroke-width="2.8" />
<rect x="857.3" y="453.1499999999999" width="4.9" height="1.1" fill="#fff"/>
<rect x="874.8" y="453.1499999999999" width="3.7" height="1.1" fill="#fff"/>
<polyline points="849.75,464.3699999999999 886.3,464.3699999999999" fill="none" stroke="#000" stroke-width="2.8" />
<rect x="857.3" y="462.6699999999999" width="4.9" height="1.1" fill="#fff"/>
<rect x="874.8" y="462.6699999999999" width="3.7" height="1.1" fill="#fff"/>
<polyline points="849.75,473.8899999999999 886.3,473.8899999999999" fill="none" stroke="#000" stroke-width="2.8" />
<rect x="857.3" y="472.1899999999999" width="4.9" height="1.1" fill="#fff"/>
<rect x="874.8" y="472.1899999999999" width="3.7" height="1.1" fill="#fff"/>
<polyline points="849.75,483.40999999999985 886.3,483.40999999999985" fill="none" stroke="#000" stroke-width="2.8" />
<rect x="857.3" y="481.70999999999987" width="4.9" height="1.1" fill="#fff"/>
<rect x="874.8" y="481.70999999999987" width="3.7" height="1.1" fill="#fff"/>
<polyline points="849.75,492.92999999999984 886.3,492.92999999999984" fill="none" stroke="#000" stroke-width="2.8" />
<rect x="857.3" y="491.22999999999985" width="4.9" height="1.1" fill="#fff"/>
<rect x="874.8" y="491.22999999999985" width="3.7" height="1.1" fill="#fff"/>
<polyline points="849.75,502.4499999999998 886.3,502.4499999999998" fill="none" stroke="#000" stroke-width="2.8" />
<rect x="857.3" y="500.74999999999983" width="4.9" height="1.1" fill="#fff"/>
<rect x="874.8" y="500.74999999999983" width="3.7" height="1.1" fill="#fff"/>
<polyline points="849.75,511.9699999999998 886.3,511.9699999999998" fill="none" stroke="#000" stroke-width="2.8" />
<rect x="857.3" y="510.2699999999998" width="4.9" height="1.1" fill="#fff"/>
<rect x="874.8" y="510.2699999999998" width="3.7" height="1.1" fill="#fff"/>
<polyline points="849.75,521.4899999999998 886.3,521.4899999999998" fill="none" stroke="#000" stroke-width="2.8" />
<rect x="857.3" y="519.7899999999997" width="4.9" height="1.1" fill="#fff"/>
<rect x="874.8" y="519.7899999999997" width="3.7" height="1.1" fill="#fff"/>
<polyline points="849.75,531.0099999999998 886.3,531.0099999999998" fill="none" stroke="#000" stroke-width="2.8" />
<rect x="857.3" y="529.3099999999997" width="4.9" height="1.1" fill="#fff"/>
<rect x="874.8" y="529.3099999999997" width="3.7" height="1.1" fill="#fff"/>
<polyline points="849.75,540.5299999999997 886.3,540.5299999999997" fill="none" stroke="#000" stroke-width="2.8" />
<rect x="857.3" y="538.8299999999997" width="4.9" height="1.1" fill="#fff"/>
<rect x="874.8" y="538.8299999999997" width="3.7" height="1.1" fill="#fff"/>
<polyline points="849.75,550.0499999999997 886.3,550.0499999999997" fill="none" stroke="#000" stroke-width="2.8" />
<rect x="857.3" y="548.3499999999997" width="4.9" height="1.1" fill="#fff"/>
<rect x="874.8" y="548.3499999999997" width="3.7" height="1.1" fill="#fff"/>
<polyline points="845.4,406.9 886.3,406.9" fill="none" stroke="#000" stroke-width="1.8" />
<rect x="845.4" y="554.25" width="41.2" height="3.75" fill="#000"/>
<rect x="833.5" y="513.7" width="3.1" height="44.3" fill="#000"/>
<rect x="835.6" y="524" width="1.2" height="3.2" fill="#fff"/>
<rect x="835.6" y="538.5" width="1.2" height="3.2" fill="#fff"/>
<rect x="835.6" y="546.5" width="1.2" height="3.2" fill="#fff"/>
<polyline points="833.5,557.9 846,557.9" fill="none" stroke="#000" stroke-width="1.8" />
<rect x="781.8" y="559.4" width="10.4" height="56.1" fill="none" stroke="#000" stroke-width="1.6"/>
<polyline points="781.3,581.25 792.2,581.25" fill="none" stroke="#000" stroke-width="1.6" />
<rect x="789.8" y="581.25" width="3.1" height="34.25" fill="#000"/>
<rect x="789.7" y="588" width="1.2" height="3.2" fill="#fff"/>
<rect x="789.7" y="598" width="1.2" height="3.2" fill="#fff"/>
<rect x="789.7" y="608" width="1.2" height="3.2" fill="#fff"/>
<rect x="876" y="558" width="3.1" height="57.5" fill="#000"/>
<rect x="878" y="566" width="1.2" height="3.2" fill="#fff"/>
<rect x="878" y="581" width="1.2" height="3.2" fill="#fff"/>
<rect x="878" y="596" width="1.2" height="3.2" fill="#fff"/>
<rect x="878" y="606" width="1.2" height="3.2" fill="#fff"/>
<text x="608.5" y="158.3" font-size="17.2" textLength="35.0" lengthAdjust="spacingAndGlyphs" stroke="#000" stroke-width="0.65">bed 5</text>
<text x="607.25" y="168.6" font-size="10" font-weight="bold" textLength="19.71" lengthAdjust="spacingAndGlyphs" stroke="#000" stroke-width="0.6">8'–1&quot;</text>
<text x="633.23" y="168.6" font-size="10" font-weight="bold" textLength="10.87" lengthAdjust="spacingAndGlyphs" stroke="#000" stroke-width="0.6">clg</text>
<text x="601.9" y="179.6" font-size="10" font-weight="bold" textLength="47.85" lengthAdjust="spacingAndGlyphs" stroke="#000" stroke-width="0.6">11'–0&quot;x11'–4&quot;</text>
<text x="821.75" y="161.6" font-size="17.2" textLength="34.05" lengthAdjust="spacingAndGlyphs" stroke="#000" stroke-width="0.65">bed 4</text>
<text x="820.8" y="172.5" font-size="10" font-weight="bold" textLength="19.58" lengthAdjust="spacingAndGlyphs" stroke="#000" stroke-width="0.6">8'–1&quot;</text>
<text x="846.6" y="172.5" font-size="10" font-weight="bold" textLength="10.8" lengthAdjust="spacingAndGlyphs" stroke="#000" stroke-width="0.6">clg</text>
<text x="817" y="182.8" font-size="10" font-weight="bold" textLength="47.5" lengthAdjust="spacingAndGlyphs" stroke="#000" stroke-width="0.6">11'–0&quot;x11'–4&quot;</text>
<text x="623.2" y="251.4" font-size="17.2" textLength="26.3" lengthAdjust="spacingAndGlyphs" stroke="#000" stroke-width="0.65">ba 3</text>
<text x="617.9" y="262.7" font-size="10" font-weight="bold" textLength="19.58" lengthAdjust="spacingAndGlyphs" stroke="#000" stroke-width="0.6">9'–1&quot;</text>
<text x="643.7" y="262.7" font-size="10" font-weight="bold" textLength="10.8" lengthAdjust="spacingAndGlyphs" stroke="#000" stroke-width="0.6">clg</text>
<text x="596.8" y="349.7" font-size="17.2" textLength="9.6" lengthAdjust="spacingAndGlyphs" stroke="#000" stroke-width="0.65">la</text>
<text x="583" y="360.7" font-size="10" font-weight="bold" textLength="19.8" lengthAdjust="spacingAndGlyphs" stroke="#000" stroke-width="0.6">8'–1&quot;</text>
<text x="609.09" y="360.7" font-size="10" font-weight="bold" textLength="10.91" lengthAdjust="spacingAndGlyphs" stroke="#000" stroke-width="0.6">clg</text>
<text x="815.9" y="297.2" font-size="17.2" textLength="34.85" lengthAdjust="spacingAndGlyphs" stroke="#000" stroke-width="0.65">bed 3</text>
<text x="814.4" y="308.4" font-size="10" font-weight="bold" textLength="19.85" lengthAdjust="spacingAndGlyphs" stroke="#000" stroke-width="0.6">8'–1&quot;</text>
<text x="840.56" y="308.4" font-size="10" font-weight="bold" textLength="10.94" lengthAdjust="spacingAndGlyphs" stroke="#000" stroke-width="0.6">clg</text>
<text x="808.1" y="320" font-size="10" font-weight="bold" textLength="48.4" lengthAdjust="spacingAndGlyphs" stroke="#000" stroke-width="0.6">11'–0&quot;x11'–4&quot;</text>
<text x="615.3" y="438.9" font-size="17.2" textLength="37.2" lengthAdjust="spacingAndGlyphs" stroke="#000" stroke-width="0.65">bath 1</text>
<text x="616.2" y="449.2" font-size="10" font-weight="bold" textLength="19.9" lengthAdjust="spacingAndGlyphs" stroke="#000" stroke-width="0.6">8'–1&quot;</text>
<text x="642.43" y="449.2" font-size="10" font-weight="bold" textLength="10.97" lengthAdjust="spacingAndGlyphs" stroke="#000" stroke-width="0.6">clg</text>
<text x="760" y="412" font-size="17.2" textLength="18.5" lengthAdjust="spacingAndGlyphs" stroke="#000" stroke-width="0.65">loft</text>
<text x="750.7" y="422.6" font-size="10" font-weight="bold" textLength="19.9" lengthAdjust="spacingAndGlyphs" stroke="#000" stroke-width="0.6">8'–1&quot;</text>
<text x="776.93" y="422.6" font-size="10" font-weight="bold" textLength="10.97" lengthAdjust="spacingAndGlyphs" stroke="#000" stroke-width="0.6">clg</text>
<text x="745" y="434.5" font-size="10" font-weight="bold" textLength="44.75" lengthAdjust="spacingAndGlyphs" stroke="#000" stroke-width="0.6">13'–5&quot;x9'–1&quot;</text>
<text x="637" y="589.5" font-size="17.2" textLength="64.9" lengthAdjust="spacingAndGlyphs" stroke="#000" stroke-width="0.65">bedroom 1</text>
<text x="652" y="600" font-size="10" font-weight="bold" textLength="19.8" lengthAdjust="spacingAndGlyphs" stroke="#000" stroke-width="0.6">8'–1&quot;</text>
<text x="678.09" y="600" font-size="10" font-weight="bold" textLength="10.91" lengthAdjust="spacingAndGlyphs" stroke="#000" stroke-width="0.6">clg</text>
<text x="643" y="612.2" font-size="10" font-weight="bold" textLength="49" lengthAdjust="spacingAndGlyphs" stroke="#000" stroke-width="0.6">18'–9&quot;x14'–5&quot;</text>
<text x="825.5" y="580" font-size="17.2" textLength="19.8" lengthAdjust="spacingAndGlyphs" stroke="#000" stroke-width="0.65">wic</text>
<text x="816.1" y="591" font-size="10" font-weight="bold" textLength="20.22" lengthAdjust="spacingAndGlyphs" stroke="#000" stroke-width="0.6">8'–1&quot;</text>
<text x="842.75" y="591" font-size="10" font-weight="bold" textLength="11.15" lengthAdjust="spacingAndGlyphs" stroke="#000" stroke-width="0.6">clg</text>
<text x="657" y="686.4" font-size="19.2" fill="#4d4d4f" stroke="#4d4d4f" stroke-width="0.85" textLength="135.6" lengthAdjust="spacingAndGlyphs">Second Floor</text>
</svg>
</body></html>
